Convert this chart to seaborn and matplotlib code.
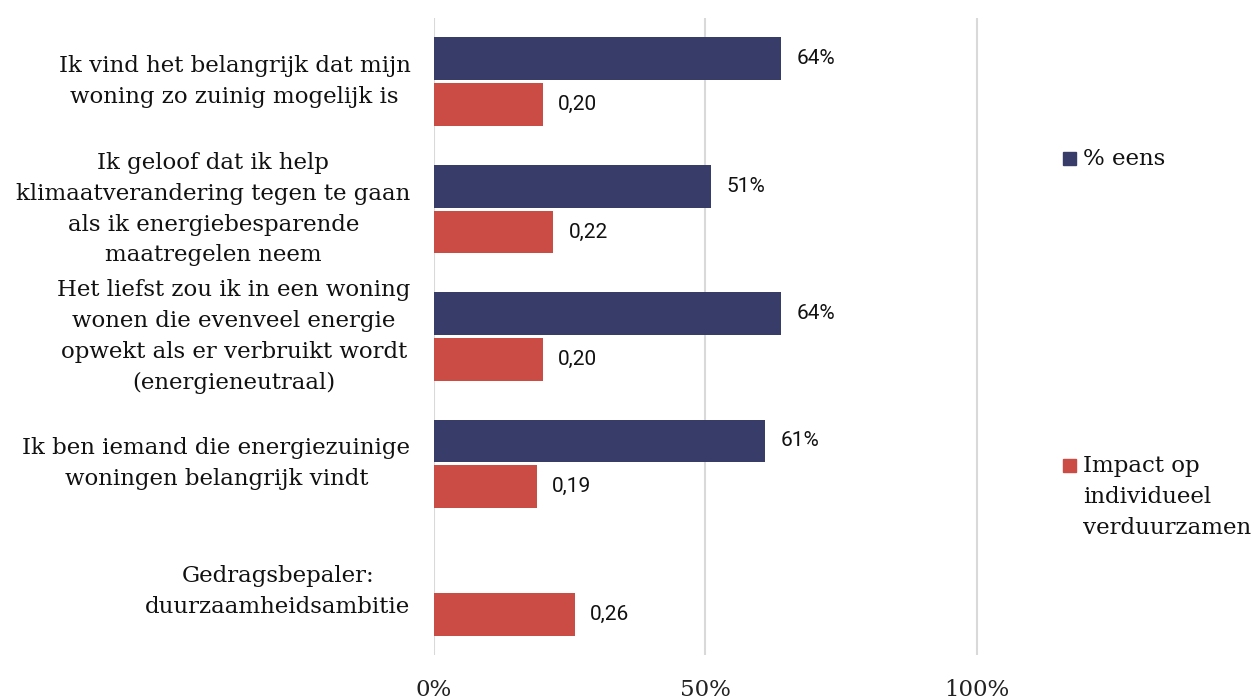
import matplotlib.pyplot as plt
import matplotlib.patches as mpatches
import numpy as np
import pandas as pd
import seaborn as sns

# data
stellingen = [
    "Ik vind het belangrijk dat mijn\nwoning zo zuinig mogelijk is",
    "Ik geloof dat ik help\nklimaatverandering tegen te gaan\nals ik energiebesparende\nmaatregelen neem",
    "Het liefst zou ik in een woning\nwonen die evenveel energie\nopwekt als er verbruikt wordt\n(energieneutraal)",
    "Ik ben iemand die energiezuinige\nwoningen belangrijk vindt",
    "Gedragsbepaler:\nduurzaamheidsambitie",
]
pct_eens = [0.64, 0.51, 0.64, 0.61, np.nan]
impact = [0.20, 0.22, 0.20, 0.19, 0.26]
reeksen = ["% eens", "Impact op\nindividueel\nverduurzamen"]
kleuren = ["#383C68", "#CB4C44"]

df = pd.DataFrame({
    "stelling": stellingen * 2,
    "waarde": pct_eens + impact,
    "reeks": [reeksen[0]] * 5 + [reeksen[1]] * 5,
})

sns.set_style("white")
serif = ["DejaVu Serif"]
fs = 16.5
ls = 1.52

fig = plt.figure(figsize=(12.59, 7), dpi=100)
ax = fig.add_axes([434 / 1259, 45 / 700, 597 / 1259, 637 / 700])

sns.barplot(data=df, y="stelling", x="waarde", hue="reeks", orient="h",
            palette=kleuren, width=0.72, gap=0.065, ax=ax, legend=False,
            saturation=1, linewidth=0)

ax.set_xlim(0, 1.1)
ax.set_xticks([0, 0.5, 1.0])
ax.set_xticklabels(["0%", "50%", "100%"], family=serif, fontsize=fs, color="#222222")
ax.tick_params(axis="x", length=0, pad=17)
ax.tick_params(axis="y", length=0, pad=17)
for lbl in ax.get_yticklabels():
    lbl.set_fontfamily(serif)
    lbl.set_fontsize(fs)
    lbl.set_multialignment("center")
    lbl.set_verticalalignment("center")
    lbl.set_linespacing(ls)
    lbl.set_color("#111111")
ax.set_xlabel("")
ax.set_ylabel("")
ax.grid(axis="x", color="#D9D9D9", linewidth=1.5)
ax.set_axisbelow(True)
for s in ax.spines.values():
    s.set_visible(False)

# waardelabels
for cont, reeks in zip(ax.containers, reeksen):
    for bar in cont:
        w = bar.get_width()
        if np.isnan(w) or w == 0:
            continue
        txt = f"{w * 100:.0f}%" if reeks == reeksen[0] else f"{w:.2f}".replace(".", ",")
        ax.text(w + 0.028, bar.get_y() + bar.get_height() / 2, txt,
                va="center", ha="left", fontsize=15, family="Roboto",
                color="#111111")

# legenda
def legenda_item(x, y, kleur, tekst):
    fig.patches.append(mpatches.Rectangle((x / 1259, 1 - (y + 7) / 700), 13 / 1259, 13 / 700,
                                          transform=fig.transFigure, color=kleur))
    fig.text((x + 20) / 1259, 1 - (y - 10) / 700, tekst, family=serif, fontsize=fs,
             va="top", ha="left", color="#111111", linespacing=ls)

legenda_item(1063, 158, kleuren[0], reeksen[0])
legenda_item(1063, 465, kleuren[1], reeksen[1])

fig.savefig("out.png", dpi=100)
